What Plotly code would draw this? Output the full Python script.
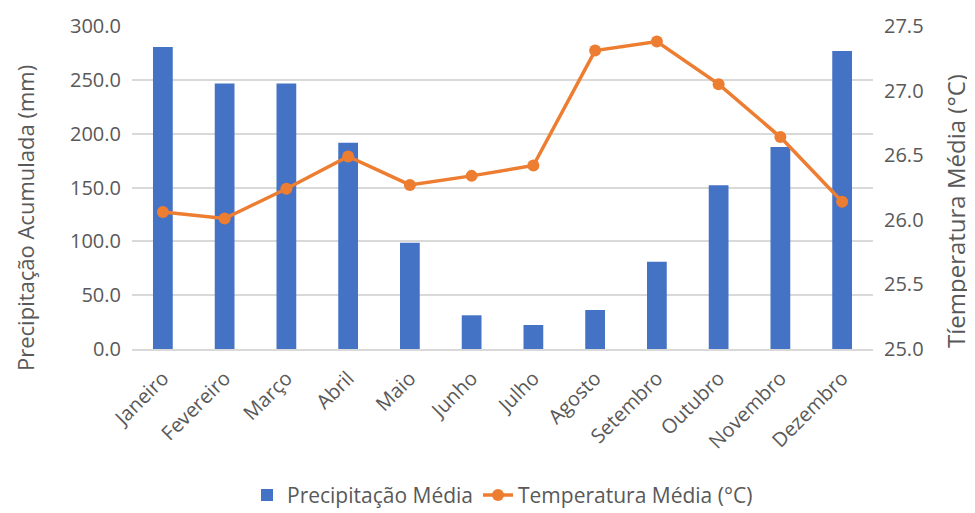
import plotly.graph_objects as go

meses = ["Janeiro", "Fevereiro", "Março", "Abril", "Maio", "Junho", "Julho",
         "Agosto", "Setembro", "Outubro", "Novembro", "Dezembro"]
precipitacao = [280.5, 246.5, 246.5, 191.5, 98.6, 31.3, 22.3, 36.2, 81.0, 152.2, 187.7, 276.8]
temperatura = [26.06, 26.01, 26.24, 26.49, 26.27, 26.34, 26.42, 27.31, 27.38, 27.05, 26.64, 26.14]

left_ticks = [0, 50, 100, 150, 200, 250, 300]
right_ticks = [25.0, 25.5, 26.0, 26.5, 27.0, 27.5]

titulo_esq = "Precipitação Acumulada (mm)"
titulo_dir = "Tíemperatura Média (°C)"

FONT = "Open Sans"
GRAY = "#595959"

# page body has an 8px offset: plot area should be x 132..873, y 26..349 on the page
OFF = 8
W, H = 975, 513
PL, PR, PT, PB = 132, 873, 26, 349

fig = go.Figure()
fig.add_trace(go.Bar(
    x=meses, y=precipitacao, name="Precipitação Média",
    marker=dict(color="#4472C4", line=dict(width=0)), width=0.32,
))
fig.add_trace(go.Scatter(
    x=meses, y=temperatura, name="Temperatura Média (°C)", yaxis="y2",
    mode="lines+markers", line=dict(color="#ED7D31", width=3.5),
    marker=dict(color="#ED7D31", size=12),
))

fig.update_layout(
    width=W, height=H,
    margin=dict(l=PL - OFF, r=W - PR + OFF, t=PT - OFF, b=H - PB + OFF, autoexpand=False),
    paper_bgcolor="white", plot_bgcolor="white",
    font=dict(family=FONT, color=GRAY, size=20),
    showlegend=True,
    legend=dict(orientation="h", x=0.5, xanchor="center", y=-0.453, yanchor="middle",
                font=dict(size=21, color=GRAY, family=FONT)),
    xaxis=dict(range=[-0.5, len(meses) - 0.5], tickangle=-45, showgrid=False,
               showline=True, linecolor="#d9d9d9", linewidth=1.5,
               tickfont=dict(size=20, color=GRAY), ticks="", ticklabelstandoff=8, automargin=False),
    yaxis=dict(range=[0, 300], tickvals=left_ticks, tickformat=".1f",
               showgrid=True, gridcolor="#d9d9d9", gridwidth=1.5, zeroline=False,
               tickfont=dict(size=20, color=GRAY), ticks="", ticklabelstandoff=10, automargin=False),
    yaxis2=dict(range=[25.0, 27.5], tickvals=right_ticks, tickformat=".1f",
                overlaying="y", side="right", showgrid=False, zeroline=False,
                tickfont=dict(size=20, color=GRAY), ticks="", ticklabelstandoff=10, automargin=False),
    annotations=[
        dict(text=titulo_esq, textangle=-90, xref="paper", yref="paper",
             x=(25 - PL) / (PR - PL), y=(PB - 218) / (PB - PT),
             xanchor="center", yanchor="middle", showarrow=False,
             font=dict(size=22, color=GRAY, family=FONT)),
        dict(text=titulo_dir, textangle=-90, xref="paper", yref="paper",
             x=(956 - PL) / (PR - PL), y=(PB - 211) / (PB - PT),
             xanchor="center", yanchor="middle", showarrow=False,
             font=dict(size=24, color=GRAY, family=FONT)),
    ],
)

fig.write_html("out.html")
